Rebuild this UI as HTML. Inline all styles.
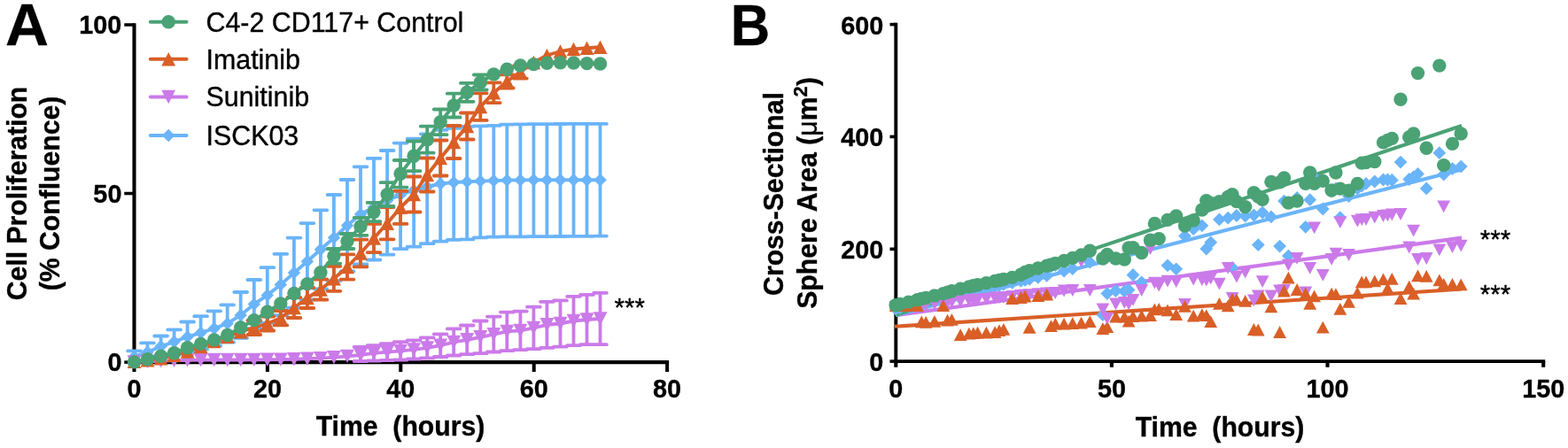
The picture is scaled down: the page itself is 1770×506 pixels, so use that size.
<!DOCTYPE html>
<html><head><meta charset="utf-8"><title>Figure</title>
<style>
html,body{margin:0;padding:0;background:#fff;}
svg{display:block;}
text{font-family:"Liberation Sans",sans-serif;fill:#000;stroke:#000;stroke-width:0.35px;stroke-linejoin:round;}
.b{font-weight:bold;}
.t{font-size:28.8px;font-weight:bold;}
.l{font-size:30.4px;}
</style></head><body>
<svg width="1770" height="506" viewBox="0 0 1770 506">
<rect width="1770" height="506" fill="#fff"/>
<g id="panelA">
<g stroke="#000" stroke-width="4.1" fill="none">
<path d="M151.5 26.2V411.2"/>
<path d="M149.4 409.1H755"/>
</g><g stroke="#000" stroke-width="3.5" fill="none">
<path stroke-width="4" d="M151.5 409.1V420.1M301.9 409.1V420.1M452.3 409.1V420.1M602.7 409.1V420.1M753.1 409.1V420.1"/>
<path d="M140.3 28H151.5"/>
<path d="M140.3 218.5H151.5"/>
<path d="M140.3 409.1H151.5"/>
</g>
<text class="t" transform="translate(151.5 448.5) scale(1 1.055)" text-anchor="middle">0</text>
<text class="t" transform="translate(301.9 448.5) scale(1 1.055)" text-anchor="middle">20</text>
<text class="t" transform="translate(452.3 448.5) scale(1 1.055)" text-anchor="middle">40</text>
<text class="t" transform="translate(602.7 448.5) scale(1 1.055)" text-anchor="middle">60</text>
<text class="t" transform="translate(753.1 448.5) scale(1 1.055)" text-anchor="middle">80</text>
<text class="t" transform="translate(137.4 38.2) scale(1 1.055)" text-anchor="end">100</text>
<text class="t" transform="translate(137.4 228.7) scale(1 1.055)" text-anchor="end">50</text>
<text class="t" transform="translate(137.4 419.3) scale(1 1.055)" text-anchor="end">0</text>
<g>
<g stroke="#6ab4f9" stroke-width="3.8" stroke-linecap="round" fill="none">
<path d="M151.5 396.3V403M144.1 396.3H158.9M166.5 387.4V397.7M159.1 387.4H173.9M181.6 379.5V403.1M174.2 379.5H189M174.2 403.1H189M196.6 372.4V399.6M189.2 372.4H204M189.2 399.6H204M211.6 363.5V397.5M204.2 363.5H219M204.2 397.5H219M226.6 357.2V394.6M219.2 357.2H234M219.2 394.6H234M241.7 351.3V390.7M234.3 351.3H249.1M234.3 390.7H249.1M256.7 344.3V386.5M249.3 344.3H264.1M249.3 386.5H264.1M271.7 330V381.8M264.3 330H279.1M264.3 381.8H279.1M286.8 316V371.2M279.4 316H294.2M279.4 371.2H294.2M301.8 302.2V364.6M294.4 302.2H309.2M294.4 364.6H309.2M316.8 286.8V356.2M309.4 286.8H324.2M309.4 356.2H324.2M331.9 268.6V347.6M324.5 268.6H339.3M324.5 347.6H339.3M346.9 252.1V338.5M339.5 252.1H354.3M339.5 338.5H354.3M361.9 237.3V326.3M354.5 237.3H369.3M354.5 326.3H369.3M376.9 220V317.2M369.6 220H384.3M369.6 317.2H384.3M392 203V306.4M384.6 203H399.4M384.6 306.4H399.4M407 188.3V298.4M399.6 188.3H414.4M399.6 298.4H414.4M422 178.9V293.5M414.6 178.9H429.4M414.6 293.5H429.4M437.1 170V287.6M429.7 170H444.5M429.7 287.6H444.5M452.1 161.6V281.1M444.7 161.6H459.5M444.7 281.1H459.5M467.1 156.7V278.7M459.7 156.7H474.5M459.7 278.7H474.5M482.2 151.3V275.2M474.8 151.3H489.6M474.8 275.2H489.6M497.2 146.8V272.7M489.8 146.8H504.6M489.8 272.7H504.6M512.2 144.8V270.8M504.8 144.8H519.6M504.8 270.8H519.6M527.2 142.9V270.3M519.9 142.9H534.6M519.9 270.3H534.6M542.3 142.4V268.3M534.9 142.4H549.7M534.9 268.3H549.7M557.3 141.9V267.6M549.9 141.9H564.7M549.9 267.6H564.7M572.3 140.6V267.4M564.9 140.6H579.7M564.9 267.4H579.7M587.4 140.4V267.3M580 140.4H594.8M580 267.3H594.8M602.4 140.2V267.2M595 140.2H609.8M595 267.2H609.8M617.4 140.1V267.1M610 140.1H624.8M610 267.1H624.8M632.5 140V267M625.1 140H639.9M625.1 267H639.9M647.5 139.9V266.9M640.1 139.9H654.9M640.1 266.9H654.9M662.5 139.9V266.8M655.1 139.9H669.9M655.1 266.8H669.9M677.5 139.9V266.6M670.1 139.9H684.9M670.1 266.6H684.9"/>
</g>
<polyline fill="none" stroke="#6ab4f9" stroke-width="3.9" stroke-linejoin="round" points="151.5,403 166.5,397.7 181.6,391.3 196.6,386 211.6,380.5 226.6,375.9 241.7,371 256.7,365.4 271.7,355.9 286.8,343.6 301.8,333.4 316.8,321.5 331.9,308.1 346.9,295.3 361.9,281.8 376.9,268.6 392,254.7 407,242 422,234 437.1,226.5 452.1,220 467.1,215 482.2,211 497.2,207.5 512.2,206 527.2,205.2 542.3,204.6 557.3,204 572.3,203.6 587.4,203.4 602.4,203.3 617.4,203.2 632.5,203.2 647.5,203.2 662.5,203.2 677.5,203.2"/>
<path d="M151.5 395.8L158.7 403L151.5 410.2L144.3 403Z" fill="#6ab4f9"/><path d="M166.5 390.5L173.7 397.7L166.5 404.9L159.3 397.7Z" fill="#6ab4f9"/><path d="M181.6 384.1L188.8 391.3L181.6 398.5L174.4 391.3Z" fill="#6ab4f9"/><path d="M196.6 378.8L203.8 386L196.6 393.2L189.4 386Z" fill="#6ab4f9"/><path d="M211.6 373.3L218.8 380.5L211.6 387.7L204.4 380.5Z" fill="#6ab4f9"/><path d="M226.6 368.7L233.8 375.9L226.6 383.1L219.4 375.9Z" fill="#6ab4f9"/><path d="M241.7 363.8L248.9 371L241.7 378.2L234.5 371Z" fill="#6ab4f9"/><path d="M256.7 358.2L263.9 365.4L256.7 372.6L249.5 365.4Z" fill="#6ab4f9"/><path d="M271.7 348.7L278.9 355.9L271.7 363.1L264.5 355.9Z" fill="#6ab4f9"/><path d="M286.8 336.4L294 343.6L286.8 350.8L279.6 343.6Z" fill="#6ab4f9"/><path d="M301.8 326.2L309 333.4L301.8 340.6L294.6 333.4Z" fill="#6ab4f9"/><path d="M316.8 314.3L324 321.5L316.8 328.7L309.6 321.5Z" fill="#6ab4f9"/><path d="M331.9 300.9L339.1 308.1L331.9 315.3L324.7 308.1Z" fill="#6ab4f9"/><path d="M346.9 288.1L354.1 295.3L346.9 302.5L339.7 295.3Z" fill="#6ab4f9"/><path d="M361.9 274.6L369.1 281.8L361.9 289L354.7 281.8Z" fill="#6ab4f9"/><path d="M376.9 261.4L384.1 268.6L376.9 275.8L369.8 268.6Z" fill="#6ab4f9"/><path d="M392 247.5L399.2 254.7L392 261.9L384.8 254.7Z" fill="#6ab4f9"/><path d="M407 234.8L414.2 242L407 249.2L399.8 242Z" fill="#6ab4f9"/><path d="M422 226.8L429.2 234L422 241.2L414.8 234Z" fill="#6ab4f9"/><path d="M437.1 219.3L444.3 226.5L437.1 233.7L429.9 226.5Z" fill="#6ab4f9"/><path d="M452.1 212.8L459.3 220L452.1 227.2L444.9 220Z" fill="#6ab4f9"/><path d="M467.1 207.8L474.3 215L467.1 222.2L459.9 215Z" fill="#6ab4f9"/><path d="M482.2 203.8L489.4 211L482.2 218.2L475 211Z" fill="#6ab4f9"/><path d="M497.2 200.3L504.4 207.5L497.2 214.7L490 207.5Z" fill="#6ab4f9"/><path d="M512.2 198.8L519.4 206L512.2 213.2L505 206Z" fill="#6ab4f9"/><path d="M527.2 198L534.5 205.2L527.2 212.4L520 205.2Z" fill="#6ab4f9"/><path d="M542.3 197.4L549.5 204.6L542.3 211.8L535.1 204.6Z" fill="#6ab4f9"/><path d="M557.3 196.8L564.5 204L557.3 211.2L550.1 204Z" fill="#6ab4f9"/><path d="M572.3 196.4L579.5 203.6L572.3 210.8L565.1 203.6Z" fill="#6ab4f9"/><path d="M587.4 196.2L594.6 203.4L587.4 210.6L580.2 203.4Z" fill="#6ab4f9"/><path d="M602.4 196.1L609.6 203.3L602.4 210.5L595.2 203.3Z" fill="#6ab4f9"/><path d="M617.4 196L624.6 203.2L617.4 210.4L610.2 203.2Z" fill="#6ab4f9"/><path d="M632.5 196L639.7 203.2L632.5 210.4L625.3 203.2Z" fill="#6ab4f9"/><path d="M647.5 196L654.7 203.2L647.5 210.4L640.3 203.2Z" fill="#6ab4f9"/><path d="M662.5 196L669.7 203.2L662.5 210.4L655.3 203.2Z" fill="#6ab4f9"/><path d="M677.5 196L684.8 203.2L677.5 210.4L670.3 203.2Z" fill="#6ab4f9"/>
</g>
<g>
<g stroke="#cb7ae9" stroke-width="3.8" stroke-linecap="round" fill="none">
<path d="M407 392V408M399.6 392H414.4M399.6 408H414.4M422 390.2V407.5M414.6 390.2H429.4M414.6 407.5H429.4M437.1 388.2V407M429.7 388.2H444.5M429.7 407H444.5M452.1 386.2V406.5M444.7 386.2H459.5M444.7 406.5H459.5M467.1 384.3V405.5M459.7 384.3H474.5M459.7 405.5H474.5M482.2 381.3V404.5M474.8 381.3H489.6M474.8 404.5H489.6M497.2 377.3V403M489.8 377.3H504.6M489.8 403H504.6M512.2 371.4V401.5M504.8 371.4H519.6M504.8 401.5H519.6M527.2 367.5V400.1M519.9 367.5H534.6M519.9 400.1H534.6M542.3 362.5V399.1M534.9 362.5H549.7M534.9 399.1H549.7M557.3 357.6V397.5M549.9 357.6H564.7M549.9 397.5H564.7M572.3 352.6V396.1M564.9 352.6H579.7M564.9 396.1H579.7M587.4 351.6V395.1M580 351.6H594.8M580 395.1H594.8M602.4 346.7V394.2M595 346.7H609.8M595 394.2H609.8M617.4 340.8V392.8M610 340.8H624.8M610 392.8H624.8M632.5 339.4V391.6M625.1 339.4H639.9M625.1 391.6H639.9M647.5 334.8V390.2M640.1 334.8H654.9M640.1 390.2H654.9M662.5 332.9V389.2M655.1 332.9H669.9M655.1 389.2H669.9M677.5 330.9V389.2M670.1 330.9H684.9M670.1 389.2H684.9"/>
</g>
<polyline fill="none" stroke="#cb7ae9" stroke-width="3.9" stroke-linejoin="round" points="151.5,408.9 166.5,408.2 181.6,407.6 196.6,407.2 211.6,406.9 226.6,406.6 241.7,406.5 256.7,406.5 271.7,406.5 286.8,406.4 301.8,406.3 316.8,406.1 331.9,405.8 346.9,405.3 361.9,404.6 376.9,403.6 392,402.4 407,401 422,398.9 437.1,397.6 452.1,396.4 467.1,394.9 482.2,392.9 497.2,390.1 512.2,386.4 527.2,383.8 542.3,380.8 557.3,377.6 572.3,374.4 587.4,373.4 602.4,370.4 617.4,366.8 632.5,365.5 647.5,362.5 662.5,361 677.5,360"/>
<path d="M151.5 416.6L159.4 401.2L143.6 401.2Z" fill="#cb7ae9"/><path d="M166.5 415.9L174.5 400.5L158.6 400.5Z" fill="#cb7ae9"/><path d="M181.6 415.3L189.5 399.9L173.6 399.9Z" fill="#cb7ae9"/><path d="M196.6 414.9L204.5 399.5L188.7 399.5Z" fill="#cb7ae9"/><path d="M211.6 414.6L219.6 399.2L203.7 399.2Z" fill="#cb7ae9"/><path d="M226.6 414.3L234.6 398.9L218.7 398.9Z" fill="#cb7ae9"/><path d="M241.7 414.2L249.6 398.8L233.7 398.8Z" fill="#cb7ae9"/><path d="M256.7 414.2L264.6 398.8L248.8 398.8Z" fill="#cb7ae9"/><path d="M271.7 414.2L279.7 398.8L263.8 398.8Z" fill="#cb7ae9"/><path d="M286.8 414.1L294.7 398.7L278.8 398.7Z" fill="#cb7ae9"/><path d="M301.8 414L309.7 398.6L293.9 398.6Z" fill="#cb7ae9"/><path d="M316.8 413.8L324.8 398.4L308.9 398.4Z" fill="#cb7ae9"/><path d="M331.9 413.5L339.8 398.1L323.9 398.1Z" fill="#cb7ae9"/><path d="M346.9 413L354.8 397.6L339 397.6Z" fill="#cb7ae9"/><path d="M361.9 412.3L369.9 396.9L354 396.9Z" fill="#cb7ae9"/><path d="M376.9 411.3L384.9 395.9L369 395.9Z" fill="#cb7ae9"/><path d="M392 410.1L399.9 394.7L384 394.7Z" fill="#cb7ae9"/><path d="M407 408.7L414.9 393.3L399.1 393.3Z" fill="#cb7ae9"/><path d="M422 406.6L430 391.2L414.1 391.2Z" fill="#cb7ae9"/><path d="M437.1 405.3L445 389.9L429.1 389.9Z" fill="#cb7ae9"/><path d="M452.1 404.1L460 388.7L444.2 388.7Z" fill="#cb7ae9"/><path d="M467.1 402.6L475.1 387.2L459.2 387.2Z" fill="#cb7ae9"/><path d="M482.2 400.6L490.1 385.2L474.2 385.2Z" fill="#cb7ae9"/><path d="M497.2 397.8L505.1 382.4L489.3 382.4Z" fill="#cb7ae9"/><path d="M512.2 394.1L520.2 378.8L504.3 378.8Z" fill="#cb7ae9"/><path d="M527.2 391.5L535.2 376.1L519.3 376.1Z" fill="#cb7ae9"/><path d="M542.3 388.5L550.2 373.1L534.3 373.1Z" fill="#cb7ae9"/><path d="M557.3 385.2L565.2 369.9L549.4 369.9Z" fill="#cb7ae9"/><path d="M572.3 382.1L580.3 366.7L564.4 366.7Z" fill="#cb7ae9"/><path d="M587.4 381.1L595.3 365.7L579.4 365.7Z" fill="#cb7ae9"/><path d="M602.4 378.1L610.3 362.8L594.5 362.8Z" fill="#cb7ae9"/><path d="M617.4 374.5L625.4 359.1L609.5 359.1Z" fill="#cb7ae9"/><path d="M632.5 373.2L640.4 357.8L624.5 357.8Z" fill="#cb7ae9"/><path d="M647.5 370.2L655.4 354.8L639.6 354.8Z" fill="#cb7ae9"/><path d="M662.5 368.7L670.5 353.3L654.6 353.3Z" fill="#cb7ae9"/><path d="M677.5 367.7L685.5 352.3L669.6 352.3Z" fill="#cb7ae9"/>
</g>
<g>
<g stroke="#d95f27" stroke-width="3.8" stroke-linecap="round" fill="none">
<path d="M286.8 362V378M279.4 362H294.2M279.4 378H294.2M301.8 357.5V373.5M294.4 357.5H309.2M294.4 373.5H309.2M316.8 351V367.4M309.4 351H324.2M309.4 367.4H324.2M331.9 336V359M324.5 336H339.3M324.5 359H339.3M346.9 325V348M339.5 325H354.3M339.5 348H354.3M361.9 315.5V338.5M354.5 315.5H369.3M354.5 338.5H369.3M376.9 300.8V328.8M369.6 300.8H384.3M369.6 328.8H384.3M392 287.4V315.6M384.6 287.4H399.4M384.6 315.6H399.4M407 270.7V301.3M399.6 270.7H414.4M399.6 301.3H414.4M422 252.9V285.1M414.6 252.9H429.4M414.6 285.1H429.4M437.1 234.1V270.3M429.7 234.1H444.5M429.7 270.3H444.5M452.1 215.9V252.9M444.7 215.9H459.5M444.7 252.9H459.5M467.1 199.5V239.5M459.7 199.5H474.5M459.7 239.5H474.5M482.2 178.5V216.5M474.8 178.5H489.6M474.8 216.5H489.6M497.2 158.5V198.5M489.8 158.5H504.6M489.8 198.5H504.6M512.2 142V179M504.8 142H519.6M504.8 179H519.6M527.2 127.5V157.5M519.9 127.5H534.6M519.9 157.5H534.6M542.3 105.3V135.9M534.9 105.3H549.7M534.9 135.9H549.7M557.3 93.3V116.1M549.9 93.3H564.7M549.9 116.1H564.7M572.3 84.3V99.5M564.9 84.3H579.7M564.9 99.5H579.7M587.4 74.2V88.6M580 74.2H594.8M580 88.6H594.8"/>
</g>
<polyline fill="none" stroke="#d95f27" stroke-width="3.9" stroke-linejoin="round" points="151.5,408.4 166.5,406.9 181.6,404.9 196.6,401.4 211.6,397 226.6,391.5 241.7,385.6 256.7,380.2 271.7,374.7 286.8,370 301.8,365.5 316.8,359.2 331.9,347.5 346.9,336.5 361.9,327 376.9,314.8 392,301.5 407,286 422,269 437.1,252.2 452.1,234.4 467.1,219.5 482.2,197.5 497.2,178.5 512.2,160.5 527.2,142.5 542.3,120.6 557.3,104.7 572.3,91.9 587.4,81.4 602.4,70.5 617.4,62.5 632.5,58 647.5,55.5 662.5,54.2 677.5,53.2"/>
<path d="M151.5 400.7L159.4 416.1L143.6 416.1Z" fill="#d95f27"/><path d="M166.5 399.2L174.5 414.6L158.6 414.6Z" fill="#d95f27"/><path d="M181.6 397.2L189.5 412.6L173.6 412.6Z" fill="#d95f27"/><path d="M196.6 393.7L204.5 409.1L188.7 409.1Z" fill="#d95f27"/><path d="M211.6 389.3L219.6 404.7L203.7 404.7Z" fill="#d95f27"/><path d="M226.6 383.8L234.6 399.2L218.7 399.2Z" fill="#d95f27"/><path d="M241.7 377.9L249.6 393.3L233.7 393.3Z" fill="#d95f27"/><path d="M256.7 372.5L264.6 387.9L248.8 387.9Z" fill="#d95f27"/><path d="M271.7 367L279.7 382.4L263.8 382.4Z" fill="#d95f27"/><path d="M286.8 362.3L294.7 377.7L278.8 377.7Z" fill="#d95f27"/><path d="M301.8 357.8L309.7 373.2L293.9 373.2Z" fill="#d95f27"/><path d="M316.8 351.5L324.8 366.9L308.9 366.9Z" fill="#d95f27"/><path d="M331.9 339.8L339.8 355.2L323.9 355.2Z" fill="#d95f27"/><path d="M346.9 328.8L354.8 344.2L339 344.2Z" fill="#d95f27"/><path d="M361.9 319.3L369.9 334.7L354 334.7Z" fill="#d95f27"/><path d="M376.9 307.1L384.9 322.5L369 322.5Z" fill="#d95f27"/><path d="M392 293.8L399.9 309.2L384 309.2Z" fill="#d95f27"/><path d="M407 278.3L414.9 293.7L399.1 293.7Z" fill="#d95f27"/><path d="M422 261.3L430 276.7L414.1 276.7Z" fill="#d95f27"/><path d="M437.1 244.5L445 259.9L429.1 259.9Z" fill="#d95f27"/><path d="M452.1 226.7L460 242.1L444.2 242.1Z" fill="#d95f27"/><path d="M467.1 211.8L475.1 227.2L459.2 227.2Z" fill="#d95f27"/><path d="M482.2 189.8L490.1 205.2L474.2 205.2Z" fill="#d95f27"/><path d="M497.2 170.8L505.1 186.2L489.3 186.2Z" fill="#d95f27"/><path d="M512.2 152.8L520.2 168.2L504.3 168.2Z" fill="#d95f27"/><path d="M527.2 134.8L535.2 150.2L519.3 150.2Z" fill="#d95f27"/><path d="M542.3 112.9L550.2 128.3L534.3 128.3Z" fill="#d95f27"/><path d="M557.3 97L565.2 112.4L549.4 112.4Z" fill="#d95f27"/><path d="M572.3 84.2L580.3 99.6L564.4 99.6Z" fill="#d95f27"/><path d="M587.4 73.7L595.3 89.1L579.4 89.1Z" fill="#d95f27"/><path d="M602.4 62.8L610.3 78.2L594.5 78.2Z" fill="#d95f27"/><path d="M617.4 54.8L625.4 70.2L609.5 70.2Z" fill="#d95f27"/><path d="M632.5 50.3L640.4 65.7L624.5 65.7Z" fill="#d95f27"/><path d="M647.5 47.8L655.4 63.2L639.6 63.2Z" fill="#d95f27"/><path d="M662.5 46.5L670.5 61.9L654.6 61.9Z" fill="#d95f27"/><path d="M677.5 45.5L685.5 60.9L669.6 60.9Z" fill="#d95f27"/>
</g>
<g>
<g stroke="#4aa275" stroke-width="3.8" stroke-linecap="round" fill="none">
<path d="M376.9 281V297.6M369.6 281H384.3M369.6 297.6H384.3M392 264V281M384.6 264H399.4M384.6 281H399.4M407 245.8V265.8M399.6 245.8H414.4M399.6 265.8H414.4M422 228.9V250.1M414.6 228.9H429.4M414.6 250.1H429.4M437.1 206.2V233M429.7 206.2H444.5M429.7 233H444.5M452.1 181V211.6M444.7 181H459.5M444.7 211.6H459.5M467.1 159.5V193.1M459.7 159.5H474.5M459.7 193.1H474.5M482.2 142.7V172.7M474.8 142.7H489.6M474.8 172.7H489.6M497.2 123.5V152.1M489.8 123.5H504.6M489.8 152.1H504.6M512.2 105.7V132.5M504.8 105.7H519.6M504.8 132.5H519.6M527.2 93.8V114.8M519.9 93.8H534.6M519.9 114.8H534.6M542.3 84.5V101.5M534.9 84.5H549.7M534.9 101.5H549.7"/>
</g>
<polyline fill="none" stroke="#4aa275" stroke-width="3.9" stroke-linejoin="round" points="151.5,408.9 166.5,405.7 181.6,402.2 196.6,398.7 211.6,392.8 226.6,388.4 241.7,383.9 256.7,378.5 271.7,370 286.8,361.6 301.8,352.2 316.8,342.9 331.9,331.5 346.9,320.6 361.9,307.7 376.9,289.3 392,272.5 407,255.8 422,239.5 437.1,219.6 452.1,196.3 467.1,176.3 482.2,157.7 497.2,137.8 512.2,119.1 527.2,104.3 542.3,93 557.3,83.9 572.3,78.2 587.4,74 602.4,72.6 617.4,71.2 632.5,70.7 647.5,71 662.5,71.6 677.5,72"/>
<circle cx="151.5" cy="408.9" r="7.7" fill="#4aa275"/><circle cx="166.5" cy="405.7" r="7.7" fill="#4aa275"/><circle cx="181.6" cy="402.2" r="7.7" fill="#4aa275"/><circle cx="196.6" cy="398.7" r="7.7" fill="#4aa275"/><circle cx="211.6" cy="392.8" r="7.7" fill="#4aa275"/><circle cx="226.6" cy="388.4" r="7.7" fill="#4aa275"/><circle cx="241.7" cy="383.9" r="7.7" fill="#4aa275"/><circle cx="256.7" cy="378.5" r="7.7" fill="#4aa275"/><circle cx="271.7" cy="370" r="7.7" fill="#4aa275"/><circle cx="286.8" cy="361.6" r="7.7" fill="#4aa275"/><circle cx="301.8" cy="352.2" r="7.7" fill="#4aa275"/><circle cx="316.8" cy="342.9" r="7.7" fill="#4aa275"/><circle cx="331.9" cy="331.5" r="7.7" fill="#4aa275"/><circle cx="346.9" cy="320.6" r="7.7" fill="#4aa275"/><circle cx="361.9" cy="307.7" r="7.7" fill="#4aa275"/><circle cx="376.9" cy="289.3" r="7.7" fill="#4aa275"/><circle cx="392" cy="272.5" r="7.7" fill="#4aa275"/><circle cx="407" cy="255.8" r="7.7" fill="#4aa275"/><circle cx="422" cy="239.5" r="7.7" fill="#4aa275"/><circle cx="437.1" cy="219.6" r="7.7" fill="#4aa275"/><circle cx="452.1" cy="196.3" r="7.7" fill="#4aa275"/><circle cx="467.1" cy="176.3" r="7.7" fill="#4aa275"/><circle cx="482.2" cy="157.7" r="7.7" fill="#4aa275"/><circle cx="497.2" cy="137.8" r="7.7" fill="#4aa275"/><circle cx="512.2" cy="119.1" r="7.7" fill="#4aa275"/><circle cx="527.2" cy="104.3" r="7.7" fill="#4aa275"/><circle cx="542.3" cy="93" r="7.7" fill="#4aa275"/><circle cx="557.3" cy="83.9" r="7.7" fill="#4aa275"/><circle cx="572.3" cy="78.2" r="7.7" fill="#4aa275"/><circle cx="587.4" cy="74" r="7.7" fill="#4aa275"/><circle cx="602.4" cy="72.6" r="7.7" fill="#4aa275"/><circle cx="617.4" cy="71.2" r="7.7" fill="#4aa275"/><circle cx="632.5" cy="70.7" r="7.7" fill="#4aa275"/><circle cx="647.5" cy="71" r="7.7" fill="#4aa275"/><circle cx="662.5" cy="71.6" r="7.7" fill="#4aa275"/><circle cx="677.5" cy="72" r="7.7" fill="#4aa275"/>
</g>
<path d="M169.8 24.7H210.6" stroke="#4aa275" stroke-width="3.9" stroke-linecap="round" fill="none"/><circle cx="190.2" cy="24.7" r="7.7" fill="#4aa275"/><text class="l" transform="translate(232.5 35.6) scale(1 1.06)">C4-2 CD117+ Control</text>
<path d="M169.8 66.8H210.6" stroke="#d95f27" stroke-width="3.9" stroke-linecap="round" fill="none"/><path d="M190.2 59.1L198.1 74.5L182.3 74.5Z" fill="#d95f27"/><text class="l" transform="translate(232.5 77.7) scale(1 1.06)">Imatinib</text>
<path d="M169.8 109.5H210.6" stroke="#cb7ae9" stroke-width="3.9" stroke-linecap="round" fill="none"/><path d="M190.2 117.2L198.1 101.8L182.3 101.8Z" fill="#cb7ae9"/><text class="l" transform="translate(232.5 120.4) scale(1 1.06)">Sunitinib</text>
<path d="M169.8 153H210.6" stroke="#6ab4f9" stroke-width="3.9" stroke-linecap="round" fill="none"/><path d="M190.2 145.8L197.4 153L190.2 160.2L183 153Z" fill="#6ab4f9"/><text class="l" transform="translate(232.5 163.9) scale(1 1.06)">ISCK03</text>
<text class="l" style="font-size:29.5px" x="693.6" y="356.7">***</text>
<text class="b" font-size="66.5" transform="translate(6 51.3) scale(1.02 0.99)">A</text>
<text class="b" font-size="30.2" transform="translate(452 492.4) scale(1 1.04)" text-anchor="middle" xml:space="preserve" style="white-space:pre">Time  (hours)</text>
<text class="b" font-size="30.2" text-anchor="middle" transform="translate(29.5 218.5) rotate(-90) scale(1 1.04)">Cell Proliferation</text>
<text class="b" font-size="30.2" text-anchor="middle" transform="translate(67.3 218.5) rotate(-90) scale(1 1.04)">(% Confluence)</text>
</g>
<g id="panelB">
<g stroke="#000" stroke-width="3.9" fill="none">
<path d="M1011.3 25.8V410.1"/>
<path d="M1009.3 408.1H1744.2"/>
</g><g stroke="#000" stroke-width="3.6" fill="none">
<path stroke-width="4.1" d="M1011.3 408.1V414.8M1254.9 408.1V414.8M1498.5 408.1V414.8M1742.2 408.1V414.8"/>
<path d="M1004.5 27.6H1011.3"/>
<path d="M1004.5 154.4H1011.3"/>
<path d="M1004.5 281.3H1011.3"/>
<path d="M1004.5 408.1H1011.3"/>
</g>
<text class="t" transform="translate(1011.3 448.9) scale(1 1.055)" text-anchor="middle">0</text>
<text class="t" transform="translate(1254.9 448.9) scale(1 1.055)" text-anchor="middle">50</text>
<text class="t" transform="translate(1498.5 448.9) scale(1 1.055)" text-anchor="middle">100</text>
<text class="t" transform="translate(1742.2 448.9) scale(1 1.055)" text-anchor="middle">150</text>
<text class="t" transform="translate(997.3 38.5) scale(1 1.055)" text-anchor="end">600</text>
<text class="t" transform="translate(997.3 165.3) scale(1 1.055)" text-anchor="end">400</text>
<text class="t" transform="translate(997.3 292.2) scale(1 1.055)" text-anchor="end">200</text>
<text class="t" transform="translate(997.3 419) scale(1 1.055)" text-anchor="end">0</text>
<path d="M1010 368.8L1650 326.5" stroke="#d95f27" stroke-width="4.1" fill="none"/>
<path d="M1011 356.1L1650 268.6" stroke="#cb7ae9" stroke-width="4.1" fill="none"/>
<path d="M1011 356L1650 191.4" stroke="#6ab4f9" stroke-width="4.1" fill="none"/>
<path d="M1011 356L1650 142" stroke="#4aa275" stroke-width="4.1" fill="none"/>
<g>
<path d="M1011.1 341.6L1018.5 349L1011.1 356.4L1003.7 349Z" fill="#6ab4f9"/><path d="M1016 340.4L1023.4 347.8L1016 355.2L1008.6 347.8Z" fill="#6ab4f9"/><path d="M1025.7 338.2L1033.1 345.6L1025.7 353L1018.3 345.6Z" fill="#6ab4f9"/><path d="M1035.5 335.9L1042.9 343.3L1035.5 350.7L1028.1 343.3Z" fill="#6ab4f9"/><path d="M1040.3 334.8L1047.7 342.2L1040.3 349.6L1032.9 342.2Z" fill="#6ab4f9"/><path d="M1045.2 333.7L1052.6 341.1L1045.2 348.5L1037.8 341.1Z" fill="#6ab4f9"/><path d="M1054.9 331.4L1062.3 338.8L1054.9 346.2L1047.5 338.8Z" fill="#6ab4f9"/><path d="M1064.7 329.2L1072.1 336.6L1064.7 344L1057.3 336.6Z" fill="#6ab4f9"/><path d="M1069.6 328L1077 335.4L1069.6 342.8L1062.2 335.4Z" fill="#6ab4f9"/><path d="M1074.4 326.9L1081.8 334.3L1074.4 341.7L1067 334.3Z" fill="#6ab4f9"/><path d="M1084.2 324.6L1091.6 332L1084.2 339.4L1076.8 332Z" fill="#6ab4f9"/><path d="M1093.9 322.4L1101.3 329.8L1093.9 337.2L1086.5 329.8Z" fill="#6ab4f9"/><path d="M1098.8 321.2L1106.2 328.6L1098.8 336L1091.4 328.6Z" fill="#6ab4f9"/><path d="M1103.6 320.1L1111 327.5L1103.6 334.9L1096.2 327.5Z" fill="#6ab4f9"/><path d="M1113.4 317.9L1120.8 325.3L1113.4 332.7L1106 325.3Z" fill="#6ab4f9"/><path d="M1123.1 316L1130.5 323.4L1123.1 330.8L1115.7 323.4Z" fill="#6ab4f9"/><path d="M1128 315L1135.4 322.4L1128 329.8L1120.6 322.4Z" fill="#6ab4f9"/><path d="M1132.9 314L1140.3 321.4L1132.9 328.8L1125.5 321.4Z" fill="#6ab4f9"/><path d="M1142.6 312L1150 319.4L1142.6 326.8L1135.2 319.4Z" fill="#6ab4f9"/><path d="M1152.4 310L1159.8 317.4L1152.4 324.8L1145 317.4Z" fill="#6ab4f9"/><path d="M1157.2 309L1164.6 316.4L1157.2 323.8L1149.8 316.4Z" fill="#6ab4f9"/><path d="M1162.1 308L1169.5 315.4L1162.1 322.8L1154.7 315.4Z" fill="#6ab4f9"/><path d="M1171.8 306L1179.2 313.4L1171.8 320.8L1164.4 313.4Z" fill="#6ab4f9"/><path d="M1181.6 304L1189 311.4L1181.6 318.8L1174.2 311.4Z" fill="#6ab4f9"/><path d="M1186.5 293.6L1193.9 301L1186.5 308.4L1179.1 301Z" fill="#6ab4f9"/><path d="M1191.3 292.1L1198.7 299.5L1191.3 306.9L1183.9 299.5Z" fill="#6ab4f9"/><path d="M1201.1 298.8L1208.5 306.2L1201.1 313.6L1193.7 306.2Z" fill="#6ab4f9"/><path d="M1210.8 296.1L1218.2 303.5L1210.8 310.9L1203.4 303.5Z" fill="#6ab4f9"/><path d="M1220.6 283.1L1228 290.5L1220.6 297.9L1213.2 290.5Z" fill="#6ab4f9"/><path d="M1230.3 288.8L1237.7 296.2L1230.3 303.6L1222.9 296.2Z" fill="#6ab4f9"/><path d="M1244.9 348.3L1252.3 355.7L1244.9 363.1L1237.5 355.7Z" fill="#6ab4f9"/><path d="M1249.8 324.1L1257.2 331.5L1249.8 338.9L1242.4 331.5Z" fill="#6ab4f9"/><path d="M1259.5 321.1L1266.9 328.5L1259.5 335.9L1252.1 328.5Z" fill="#6ab4f9"/><path d="M1269.3 321.6L1276.7 329L1269.3 336.4L1261.9 329Z" fill="#6ab4f9"/><path d="M1274.1 320.1L1281.5 327.5L1274.1 334.9L1266.7 327.5Z" fill="#6ab4f9"/><path d="M1279 303.1L1286.4 310.5L1279 317.9L1271.6 310.5Z" fill="#6ab4f9"/><path d="M1288.7 311.4L1296.1 318.8L1288.7 326.2L1281.3 318.8Z" fill="#6ab4f9"/><path d="M1298.5 263.9L1305.9 271.3L1298.5 278.7L1291.1 271.3Z" fill="#6ab4f9"/><path d="M1303.4 245L1310.8 252.4L1303.4 259.8L1296 252.4Z" fill="#6ab4f9"/><path d="M1308.2 262.2L1315.6 269.6L1308.2 277L1300.8 269.6Z" fill="#6ab4f9"/><path d="M1318 292.4L1325.4 299.8L1318 307.2L1310.6 299.8Z" fill="#6ab4f9"/><path d="M1327.7 296.4L1335.1 303.8L1327.7 311.2L1320.3 303.8Z" fill="#6ab4f9"/><path d="M1337.5 259.2L1344.9 266.6L1337.5 274L1330.1 266.6Z" fill="#6ab4f9"/><path d="M1347.2 251.3L1354.6 258.7L1347.2 266.1L1339.8 258.7Z" fill="#6ab4f9"/><path d="M1356.9 247.4L1364.3 254.8L1356.9 262.2L1349.5 254.8Z" fill="#6ab4f9"/><path d="M1361.8 273.6L1369.2 281L1361.8 288.4L1354.4 281Z" fill="#6ab4f9"/><path d="M1366.7 266.4L1374.1 273.8L1366.7 281.2L1359.3 273.8Z" fill="#6ab4f9"/><path d="M1376.4 240.5L1383.8 247.9L1376.4 255.3L1369 247.9Z" fill="#6ab4f9"/><path d="M1386.2 238.8L1393.6 246.2L1386.2 253.6L1378.8 246.2Z" fill="#6ab4f9"/><path d="M1391 294.9L1398.4 302.3L1391 309.7L1383.6 302.3Z" fill="#6ab4f9"/><path d="M1395.9 236.1L1403.3 243.5L1395.9 250.9L1388.5 243.5Z" fill="#6ab4f9"/><path d="M1405.7 236.6L1413.1 244L1405.7 251.4L1398.3 244Z" fill="#6ab4f9"/><path d="M1415.4 235.6L1422.8 243L1415.4 250.4L1408 243Z" fill="#6ab4f9"/><path d="M1420.3 269.2L1427.7 276.6L1420.3 284L1412.9 276.6Z" fill="#6ab4f9"/><path d="M1425.1 232.6L1432.5 240L1425.1 247.4L1417.7 240Z" fill="#6ab4f9"/><path d="M1434.9 237.5L1442.3 244.9L1434.9 252.3L1427.5 244.9Z" fill="#6ab4f9"/><path d="M1444.6 270.7L1452 278.1L1444.6 285.5L1437.2 278.1Z" fill="#6ab4f9"/><path d="M1449.5 219.7L1456.9 227.1L1449.5 234.5L1442.1 227.1Z" fill="#6ab4f9"/><path d="M1454.4 281.5L1461.8 288.9L1454.4 296.3L1447 288.9Z" fill="#6ab4f9"/><path d="M1464.1 216.1L1471.5 223.5L1464.1 230.9L1456.7 223.5Z" fill="#6ab4f9"/><path d="M1473.8 248.9L1481.2 256.3L1473.8 263.7L1466.4 256.3Z" fill="#6ab4f9"/><path d="M1478.7 218.3L1486.1 225.7L1478.7 233.1L1471.3 225.7Z" fill="#6ab4f9"/><path d="M1483.6 192.6L1491 200L1483.6 207.4L1476.2 200Z" fill="#6ab4f9"/><path d="M1493.3 228.6L1500.7 236L1493.3 243.4L1485.9 236Z" fill="#6ab4f9"/><path d="M1503.1 208.6L1510.5 216L1503.1 223.4L1495.7 216Z" fill="#6ab4f9"/><path d="M1507.9 205.6L1515.3 213L1507.9 220.4L1500.5 213Z" fill="#6ab4f9"/><path d="M1512.8 238.3L1520.2 245.7L1512.8 253.1L1505.4 245.7Z" fill="#6ab4f9"/><path d="M1522.6 214.1L1530 221.5L1522.6 228.9L1515.2 221.5Z" fill="#6ab4f9"/><path d="M1532.3 205.6L1539.7 213L1532.3 220.4L1524.9 213Z" fill="#6ab4f9"/><path d="M1537.2 202.6L1544.6 210L1537.2 217.4L1529.8 210Z" fill="#6ab4f9"/><path d="M1542 200L1549.4 207.4L1542 214.8L1534.6 207.4Z" fill="#6ab4f9"/><path d="M1551.8 197.6L1559.2 205L1551.8 212.4L1544.4 205Z" fill="#6ab4f9"/><path d="M1561.5 195.6L1568.9 203L1561.5 210.4L1554.1 203Z" fill="#6ab4f9"/><path d="M1566.4 195.6L1573.8 203L1566.4 210.4L1559 203Z" fill="#6ab4f9"/><path d="M1571.3 196.1L1578.7 203.5L1571.3 210.9L1563.9 203.5Z" fill="#6ab4f9"/><path d="M1581 175.7L1588.4 183.1L1581 190.5L1573.6 183.1Z" fill="#6ab4f9"/><path d="M1590.7 195.1L1598.1 202.5L1590.7 209.9L1583.3 202.5Z" fill="#6ab4f9"/><path d="M1595.6 192.6L1603 200L1595.6 207.4L1588.2 200Z" fill="#6ab4f9"/><path d="M1600.5 189.1L1607.9 196.5L1600.5 203.9L1593.1 196.5Z" fill="#6ab4f9"/><path d="M1610.2 205.5L1617.6 212.9L1610.2 220.3L1602.8 212.9Z" fill="#6ab4f9"/><path d="M1624.8 165.3L1632.2 172.7L1624.8 180.1L1617.4 172.7Z" fill="#6ab4f9"/><path d="M1629.7 189.6L1637.1 197L1629.7 204.4L1622.3 197Z" fill="#6ab4f9"/><path d="M1639.5 183.1L1646.9 190.5L1639.5 197.9L1632.1 190.5Z" fill="#6ab4f9"/><path d="M1649.2 180.7L1656.6 188.1L1649.2 195.5L1641.8 188.1Z" fill="#6ab4f9"/>
</g>
<g>
<path d="M1011.1 353.9L1018.5 340.1L1003.7 340.1Z" fill="#cb7ae9"/><path d="M1016 353.4L1023.4 339.6L1008.6 339.6Z" fill="#cb7ae9"/><path d="M1025.7 352.5L1033.1 338.7L1018.3 338.7Z" fill="#cb7ae9"/><path d="M1035.5 351.6L1042.8 337.8L1028.1 337.8Z" fill="#cb7ae9"/><path d="M1040.3 351.2L1047.7 337.4L1032.9 337.4Z" fill="#cb7ae9"/><path d="M1045.2 350.7L1052.6 336.9L1037.8 336.9Z" fill="#cb7ae9"/><path d="M1054.9 349.9L1062.3 336.1L1047.6 336.1Z" fill="#cb7ae9"/><path d="M1064.7 349L1072.1 335.2L1057.3 335.2Z" fill="#cb7ae9"/><path d="M1069.6 348.5L1076.9 334.7L1062.2 334.7Z" fill="#cb7ae9"/><path d="M1074.4 348.1L1081.8 334.3L1067 334.3Z" fill="#cb7ae9"/><path d="M1084.2 347.2L1091.5 333.4L1076.8 333.4Z" fill="#cb7ae9"/><path d="M1093.9 346.3L1101.3 332.5L1086.5 332.5Z" fill="#cb7ae9"/><path d="M1098.8 345.8L1106.2 332L1091.4 332Z" fill="#cb7ae9"/><path d="M1103.6 345.4L1111 331.6L1096.3 331.6Z" fill="#cb7ae9"/><path d="M1113.4 344.5L1120.8 330.7L1106 330.7Z" fill="#cb7ae9"/><path d="M1123.1 343.6L1130.5 329.8L1115.8 329.8Z" fill="#cb7ae9"/><path d="M1128 343.1L1135.4 329.3L1120.6 329.3Z" fill="#cb7ae9"/><path d="M1132.9 342.7L1140.3 328.9L1125.5 328.9Z" fill="#cb7ae9"/><path d="M1142.6 341.8L1150 328L1135.2 328Z" fill="#cb7ae9"/><path d="M1152.4 340.9L1159.7 327.1L1145 327.1Z" fill="#cb7ae9"/><path d="M1157.2 340.4L1164.6 326.6L1149.8 326.6Z" fill="#cb7ae9"/><path d="M1162.1 340L1169.5 326.2L1154.7 326.2Z" fill="#cb7ae9"/><path d="M1171.8 339.1L1179.2 325.3L1164.5 325.3Z" fill="#cb7ae9"/><path d="M1181.6 338.2L1189 324.4L1174.2 324.4Z" fill="#cb7ae9"/><path d="M1186.5 338.4L1193.8 324.6L1179.1 324.6Z" fill="#cb7ae9"/><path d="M1191.3 337.9L1198.7 324.1L1183.9 324.1Z" fill="#cb7ae9"/><path d="M1201.1 335.4L1208.5 321.6L1193.7 321.6Z" fill="#cb7ae9"/><path d="M1210.8 334.9L1218.2 321.1L1203.4 321.1Z" fill="#cb7ae9"/><path d="M1220.6 302.3L1227.9 288.5L1213.2 288.5Z" fill="#cb7ae9"/><path d="M1230.3 334.9L1237.7 321.1L1222.9 321.1Z" fill="#cb7ae9"/><path d="M1244.9 356.2L1252.3 342.4L1237.5 342.4Z" fill="#cb7ae9"/><path d="M1259.5 350.2L1266.9 336.4L1252.1 336.4Z" fill="#cb7ae9"/><path d="M1269.3 348.8L1276.6 335L1261.9 335Z" fill="#cb7ae9"/><path d="M1274.1 350.2L1281.5 336.4L1266.8 336.4Z" fill="#cb7ae9"/><path d="M1279 345.8L1286.4 332L1271.6 332Z" fill="#cb7ae9"/><path d="M1288.7 334.9L1296.1 321.1L1281.4 321.1Z" fill="#cb7ae9"/><path d="M1298.5 287.9L1305.9 274.1L1291.1 274.1Z" fill="#cb7ae9"/><path d="M1303.4 326.5L1310.7 312.7L1296 312.7Z" fill="#cb7ae9"/><path d="M1308.2 329.5L1315.6 315.7L1300.8 315.7Z" fill="#cb7ae9"/><path d="M1318 324.5L1325.4 310.7L1310.6 310.7Z" fill="#cb7ae9"/><path d="M1327.7 325L1335.1 311.2L1320.3 311.2Z" fill="#cb7ae9"/><path d="M1337.5 350.7L1344.8 336.9L1330.1 336.9Z" fill="#cb7ae9"/><path d="M1347.2 322.6L1354.6 308.8L1339.8 308.8Z" fill="#cb7ae9"/><path d="M1356.9 323L1364.3 309.2L1349.6 309.2Z" fill="#cb7ae9"/><path d="M1361.8 323.5L1369.2 309.7L1354.4 309.7Z" fill="#cb7ae9"/><path d="M1366.7 321.6L1374.1 307.8L1359.3 307.8Z" fill="#cb7ae9"/><path d="M1376.4 327.5L1383.8 313.7L1369 313.7Z" fill="#cb7ae9"/><path d="M1386.2 309.7L1393.5 295.9L1378.8 295.9Z" fill="#cb7ae9"/><path d="M1391 343.9L1398.4 330.1L1383.7 330.1Z" fill="#cb7ae9"/><path d="M1395.9 319.6L1403.3 305.8L1388.5 305.8Z" fill="#cb7ae9"/><path d="M1405.7 314.6L1413 300.8L1398.3 300.8Z" fill="#cb7ae9"/><path d="M1415.4 346.3L1422.8 332.5L1408 332.5Z" fill="#cb7ae9"/><path d="M1420.3 341.3L1427.6 327.5L1412.9 327.5Z" fill="#cb7ae9"/><path d="M1425.1 325L1432.5 311.2L1417.8 311.2Z" fill="#cb7ae9"/><path d="M1434.9 341.3L1442.3 327.5L1427.5 327.5Z" fill="#cb7ae9"/><path d="M1444.6 335.4L1452 321.6L1437.2 321.6Z" fill="#cb7ae9"/><path d="M1449.5 334.9L1456.9 321.1L1442.1 321.1Z" fill="#cb7ae9"/><path d="M1454.4 306.2L1461.7 292.4L1447 292.4Z" fill="#cb7ae9"/><path d="M1464.1 298.8L1471.5 285L1456.7 285Z" fill="#cb7ae9"/><path d="M1473.8 337.4L1481.2 323.6L1466.5 323.6Z" fill="#cb7ae9"/><path d="M1478.7 309.7L1486.1 295.9L1471.3 295.9Z" fill="#cb7ae9"/><path d="M1483.6 264.2L1491 250.4L1476.2 250.4Z" fill="#cb7ae9"/><path d="M1493.3 317.8L1500.7 304L1485.9 304Z" fill="#cb7ae9"/><path d="M1503.1 299.8L1510.5 286L1495.7 286Z" fill="#cb7ae9"/><path d="M1507.9 293.5L1515.3 279.7L1500.6 279.7Z" fill="#cb7ae9"/><path d="M1512.8 258L1520.2 244.2L1505.4 244.2Z" fill="#cb7ae9"/><path d="M1522.6 294.9L1529.9 281.1L1515.2 281.1Z" fill="#cb7ae9"/><path d="M1532.3 256.6L1539.7 242.8L1524.9 242.8Z" fill="#cb7ae9"/><path d="M1537.2 255.1L1544.6 241.3L1529.8 241.3Z" fill="#cb7ae9"/><path d="M1542 254.9L1549.4 241.1L1534.7 241.1Z" fill="#cb7ae9"/><path d="M1551.8 252.6L1559.2 238.8L1544.4 238.8Z" fill="#cb7ae9"/><path d="M1561.5 250.9L1568.9 237.1L1554.1 237.1Z" fill="#cb7ae9"/><path d="M1566.4 250.2L1573.8 236.4L1559 236.4Z" fill="#cb7ae9"/><path d="M1571.3 249.4L1578.6 235.6L1563.9 235.6Z" fill="#cb7ae9"/><path d="M1581 248.9L1588.4 235.1L1573.6 235.1Z" fill="#cb7ae9"/><path d="M1590.7 286.4L1598.1 272.6L1583.4 272.6Z" fill="#cb7ae9"/><path d="M1595.6 267.6L1603 253.8L1588.2 253.8Z" fill="#cb7ae9"/><path d="M1600.5 299.9L1607.9 286.1L1593.1 286.1Z" fill="#cb7ae9"/><path d="M1610.2 298.9L1617.6 285.1L1602.9 285.1Z" fill="#cb7ae9"/><path d="M1624.8 289.3L1632.2 275.5L1617.5 275.5Z" fill="#cb7ae9"/><path d="M1629.7 240.3L1637.1 226.5L1622.3 226.5Z" fill="#cb7ae9"/><path d="M1639.5 286.1L1646.8 272.3L1632.1 272.3Z" fill="#cb7ae9"/><path d="M1649.2 284.6L1656.6 270.8L1641.8 270.8Z" fill="#cb7ae9"/>
</g>
<g>
<path d="M1011.1 338.1L1018.5 351.9L1003.7 351.9Z" fill="#d95f27"/><path d="M1016 338.1L1023.4 351.9L1008.6 351.9Z" fill="#d95f27"/><path d="M1025.7 338.1L1033.1 351.9L1018.3 351.9Z" fill="#d95f27"/><path d="M1035.5 338.1L1042.8 351.9L1028.1 351.9Z" fill="#d95f27"/><path d="M1040.3 356.4L1047.7 370.2L1032.9 370.2Z" fill="#d95f27"/><path d="M1045.2 356.9L1052.6 370.7L1037.8 370.7Z" fill="#d95f27"/><path d="M1054.9 356L1062.3 369.8L1047.6 369.8Z" fill="#d95f27"/><path d="M1064.7 338.3L1072.1 352.1L1057.3 352.1Z" fill="#d95f27"/><path d="M1069.6 354.8L1076.9 368.6L1062.2 368.6Z" fill="#d95f27"/><path d="M1074.4 354L1081.8 367.8L1067 367.8Z" fill="#d95f27"/><path d="M1084.2 371.3L1091.5 385.1L1076.8 385.1Z" fill="#d95f27"/><path d="M1093.9 369.8L1101.3 383.6L1086.5 383.6Z" fill="#d95f27"/><path d="M1098.8 369.3L1106.2 383.1L1091.4 383.1Z" fill="#d95f27"/><path d="M1103.6 368.8L1111 382.6L1096.3 382.6Z" fill="#d95f27"/><path d="M1113.4 368.8L1120.8 382.6L1106 382.6Z" fill="#d95f27"/><path d="M1123.1 368.3L1130.5 382.1L1115.8 382.1Z" fill="#d95f27"/><path d="M1128 366.3L1135.4 380.1L1120.6 380.1Z" fill="#d95f27"/><path d="M1132.9 364.9L1140.3 378.7L1125.5 378.7Z" fill="#d95f27"/><path d="M1142.6 330.1L1150 343.9L1135.2 343.9Z" fill="#d95f27"/><path d="M1152.4 329.1L1159.7 342.9L1145 342.9Z" fill="#d95f27"/><path d="M1157.2 327.6L1164.6 341.4L1149.8 341.4Z" fill="#d95f27"/><path d="M1162.1 362.9L1169.5 376.7L1154.7 376.7Z" fill="#d95f27"/><path d="M1171.8 327.1L1179.2 340.9L1164.5 340.9Z" fill="#d95f27"/><path d="M1181.6 325.6L1189 339.4L1174.2 339.4Z" fill="#d95f27"/><path d="M1186.5 361.2L1193.8 375L1179.1 375Z" fill="#d95f27"/><path d="M1191.3 358.7L1198.7 372.5L1183.9 372.5Z" fill="#d95f27"/><path d="M1201.1 358.7L1208.5 372.5L1193.7 372.5Z" fill="#d95f27"/><path d="M1210.8 358.2L1218.2 372L1203.4 372Z" fill="#d95f27"/><path d="M1220.6 357.7L1227.9 371.5L1213.2 371.5Z" fill="#d95f27"/><path d="M1230.3 356.2L1237.7 370L1222.9 370Z" fill="#d95f27"/><path d="M1244.9 364.1L1252.3 377.9L1237.5 377.9Z" fill="#d95f27"/><path d="M1249.8 362.2L1257.2 376L1242.4 376Z" fill="#d95f27"/><path d="M1259.5 350.8L1266.9 364.6L1252.1 364.6Z" fill="#d95f27"/><path d="M1269.3 350.8L1276.6 364.6L1261.9 364.6Z" fill="#d95f27"/><path d="M1274.1 355.7L1281.5 369.5L1266.8 369.5Z" fill="#d95f27"/><path d="M1279 350.3L1286.4 364.1L1271.6 364.1Z" fill="#d95f27"/><path d="M1288.7 349.8L1296.1 363.6L1281.4 363.6Z" fill="#d95f27"/><path d="M1298.5 349.3L1305.9 363.1L1291.1 363.1Z" fill="#d95f27"/><path d="M1303.4 342.4L1310.7 356.2L1296 356.2Z" fill="#d95f27"/><path d="M1308.2 341.9L1315.6 355.7L1300.8 355.7Z" fill="#d95f27"/><path d="M1318 343.4L1325.4 357.2L1310.6 357.2Z" fill="#d95f27"/><path d="M1327.7 348.3L1335.1 362.1L1320.3 362.1Z" fill="#d95f27"/><path d="M1337.5 338.9L1344.8 352.7L1330.1 352.7Z" fill="#d95f27"/><path d="M1347.2 349.8L1354.6 363.6L1339.8 363.6Z" fill="#d95f27"/><path d="M1356.9 348.3L1364.3 362.1L1349.6 362.1Z" fill="#d95f27"/><path d="M1361.8 349.3L1369.2 363.1L1354.4 363.1Z" fill="#d95f27"/><path d="M1366.7 356.2L1374.1 370L1359.3 370Z" fill="#d95f27"/><path d="M1376.4 336L1383.8 349.8L1369 349.8Z" fill="#d95f27"/><path d="M1386.2 338.4L1393.5 352.2L1378.8 352.2Z" fill="#d95f27"/><path d="M1391 331L1398.4 344.8L1383.7 344.8Z" fill="#d95f27"/><path d="M1395.9 331.5L1403.3 345.3L1388.5 345.3Z" fill="#d95f27"/><path d="M1405.7 333L1413 346.8L1398.3 346.8Z" fill="#d95f27"/><path d="M1415.4 365.1L1422.8 378.9L1408 378.9Z" fill="#d95f27"/><path d="M1420.3 365.6L1427.6 379.4L1412.9 379.4Z" fill="#d95f27"/><path d="M1425.1 328.5L1432.5 342.3L1417.8 342.3Z" fill="#d95f27"/><path d="M1434.9 339.4L1442.3 353.2L1427.5 353.2Z" fill="#d95f27"/><path d="M1444.6 368.1L1452 381.9L1437.2 381.9Z" fill="#d95f27"/><path d="M1449.5 321.6L1456.9 335.4L1442.1 335.4Z" fill="#d95f27"/><path d="M1454.4 306.8L1461.7 320.6L1447 320.6Z" fill="#d95f27"/><path d="M1464.1 320.1L1471.5 333.9L1456.7 333.9Z" fill="#d95f27"/><path d="M1473.8 324.6L1481.2 338.4L1466.5 338.4Z" fill="#d95f27"/><path d="M1478.7 336L1486.1 349.8L1471.3 349.8Z" fill="#d95f27"/><path d="M1483.6 327.5L1491 341.3L1476.2 341.3Z" fill="#d95f27"/><path d="M1493.3 362.7L1500.7 376.5L1485.9 376.5Z" fill="#d95f27"/><path d="M1503.1 324.7L1510.5 338.5L1495.7 338.5Z" fill="#d95f27"/><path d="M1507.9 325.2L1515.3 339L1500.6 339Z" fill="#d95f27"/><path d="M1512.8 341.9L1520.2 355.7L1505.4 355.7Z" fill="#d95f27"/><path d="M1522.6 334L1529.9 347.8L1515.2 347.8Z" fill="#d95f27"/><path d="M1532.3 323.8L1539.7 337.6L1524.9 337.6Z" fill="#d95f27"/><path d="M1537.2 311.4L1544.6 325.2L1529.8 325.2Z" fill="#d95f27"/><path d="M1542 311.4L1549.4 325.2L1534.7 325.2Z" fill="#d95f27"/><path d="M1551.8 310.4L1559.2 324.2L1544.4 324.2Z" fill="#d95f27"/><path d="M1561.5 308.4L1568.9 322.2L1554.1 322.2Z" fill="#d95f27"/><path d="M1566.4 318.8L1573.8 332.6L1559 332.6Z" fill="#d95f27"/><path d="M1571.3 307.9L1578.6 321.7L1563.9 321.7Z" fill="#d95f27"/><path d="M1581 330.2L1588.4 344L1573.6 344Z" fill="#d95f27"/><path d="M1590.7 316.8L1598.1 330.6L1583.4 330.6Z" fill="#d95f27"/><path d="M1595.6 324.7L1603 338.5L1588.2 338.5Z" fill="#d95f27"/><path d="M1600.5 304.5L1607.9 318.3L1593.1 318.3Z" fill="#d95f27"/><path d="M1610.2 305L1617.6 318.8L1602.9 318.8Z" fill="#d95f27"/><path d="M1624.8 309.4L1632.2 323.2L1617.5 323.2Z" fill="#d95f27"/><path d="M1629.7 313.9L1637.1 327.7L1622.3 327.7Z" fill="#d95f27"/><path d="M1639.5 313.9L1646.8 327.7L1632.1 327.7Z" fill="#d95f27"/><path d="M1649.2 314.4L1656.6 328.2L1641.8 328.2Z" fill="#d95f27"/>
</g>
<g>
<circle cx="1011.1" cy="344.7" r="7.7" fill="#4aa275"/><circle cx="1016" cy="343.5" r="7.7" fill="#4aa275"/><circle cx="1025.7" cy="341.1" r="7.7" fill="#4aa275"/><circle cx="1035.5" cy="338.7" r="7.7" fill="#4aa275"/><circle cx="1040.3" cy="337.5" r="7.7" fill="#4aa275"/><circle cx="1045.2" cy="336.4" r="7.7" fill="#4aa275"/><circle cx="1054.9" cy="334" r="7.7" fill="#4aa275"/><circle cx="1064.7" cy="331.6" r="7.7" fill="#4aa275"/><circle cx="1069.6" cy="330.2" r="7.7" fill="#4aa275"/><circle cx="1074.4" cy="328.7" r="7.7" fill="#4aa275"/><circle cx="1084.2" cy="326.1" r="7.7" fill="#4aa275"/><circle cx="1093.9" cy="323.9" r="7.7" fill="#4aa275"/><circle cx="1098.8" cy="322.8" r="7.7" fill="#4aa275"/><circle cx="1103.6" cy="321.7" r="7.7" fill="#4aa275"/><circle cx="1113.4" cy="319.6" r="7.7" fill="#4aa275"/><circle cx="1123.1" cy="317.5" r="7.7" fill="#4aa275"/><circle cx="1128" cy="316.5" r="7.7" fill="#4aa275"/><circle cx="1132.9" cy="315.5" r="7.7" fill="#4aa275"/><circle cx="1142.6" cy="313.4" r="7.7" fill="#4aa275"/><circle cx="1152.4" cy="310.2" r="7.7" fill="#4aa275"/><circle cx="1157.2" cy="307.5" r="7.7" fill="#4aa275"/><circle cx="1162.1" cy="305.6" r="7.7" fill="#4aa275"/><circle cx="1171.8" cy="303" r="7.7" fill="#4aa275"/><circle cx="1181.6" cy="300.3" r="7.7" fill="#4aa275"/><circle cx="1186.5" cy="298.9" r="7.7" fill="#4aa275"/><circle cx="1191.3" cy="297.4" r="7.7" fill="#4aa275"/><circle cx="1201.1" cy="294.5" r="7.7" fill="#4aa275"/><circle cx="1210.8" cy="291.4" r="7.7" fill="#4aa275"/><circle cx="1220.6" cy="288" r="7.7" fill="#4aa275"/><circle cx="1230.3" cy="283.2" r="7.7" fill="#4aa275"/><circle cx="1244.9" cy="292" r="7.7" fill="#4aa275"/><circle cx="1249.8" cy="287.4" r="7.7" fill="#4aa275"/><circle cx="1259.5" cy="292" r="7.7" fill="#4aa275"/><circle cx="1269.3" cy="293" r="7.7" fill="#4aa275"/><circle cx="1274.1" cy="280" r="7.7" fill="#4aa275"/><circle cx="1279" cy="279.8" r="7.7" fill="#4aa275"/><circle cx="1288.7" cy="285.5" r="7.7" fill="#4aa275"/><circle cx="1298.5" cy="271.3" r="7.7" fill="#4aa275"/><circle cx="1303.4" cy="252.4" r="7.7" fill="#4aa275"/><circle cx="1308.2" cy="269.6" r="7.7" fill="#4aa275"/><circle cx="1318" cy="248.4" r="7.7" fill="#4aa275"/><circle cx="1327.7" cy="244" r="7.7" fill="#4aa275"/><circle cx="1337.5" cy="255" r="7.7" fill="#4aa275"/><circle cx="1347.2" cy="249" r="7.7" fill="#4aa275"/><circle cx="1356.9" cy="237" r="7.7" fill="#4aa275"/><circle cx="1361.8" cy="226.6" r="7.7" fill="#4aa275"/><circle cx="1366.7" cy="229.5" r="7.7" fill="#4aa275"/><circle cx="1376.4" cy="227.6" r="7.7" fill="#4aa275"/><circle cx="1386.2" cy="222.5" r="7.7" fill="#4aa275"/><circle cx="1391" cy="219.7" r="7.7" fill="#4aa275"/><circle cx="1395.9" cy="227.6" r="7.7" fill="#4aa275"/><circle cx="1405.7" cy="233.6" r="7.7" fill="#4aa275"/><circle cx="1415.4" cy="217.7" r="7.7" fill="#4aa275"/><circle cx="1420.3" cy="222" r="7.7" fill="#4aa275"/><circle cx="1425.1" cy="225.2" r="7.7" fill="#4aa275"/><circle cx="1434.9" cy="205.4" r="7.7" fill="#4aa275"/><circle cx="1444.6" cy="205.9" r="7.7" fill="#4aa275"/><circle cx="1449.5" cy="200.9" r="7.7" fill="#4aa275"/><circle cx="1454.4" cy="229.1" r="7.7" fill="#4aa275"/><circle cx="1464.1" cy="227.1" r="7.7" fill="#4aa275"/><circle cx="1473.8" cy="207.4" r="7.7" fill="#4aa275"/><circle cx="1478.7" cy="195" r="7.7" fill="#4aa275"/><circle cx="1483.6" cy="207.4" r="7.7" fill="#4aa275"/><circle cx="1493.3" cy="204.4" r="7.7" fill="#4aa275"/><circle cx="1503.1" cy="215" r="7.7" fill="#4aa275"/><circle cx="1507.9" cy="195" r="7.7" fill="#4aa275"/><circle cx="1512.8" cy="213.1" r="7.7" fill="#4aa275"/><circle cx="1522.6" cy="215.3" r="7.7" fill="#4aa275"/><circle cx="1532.3" cy="207.4" r="7.7" fill="#4aa275"/><circle cx="1537.2" cy="184.1" r="7.7" fill="#4aa275"/><circle cx="1542" cy="183.6" r="7.7" fill="#4aa275"/><circle cx="1551.8" cy="182.6" r="7.7" fill="#4aa275"/><circle cx="1561.5" cy="160.9" r="7.7" fill="#4aa275"/><circle cx="1566.4" cy="158.4" r="7.7" fill="#4aa275"/><circle cx="1571.3" cy="156.4" r="7.7" fill="#4aa275"/><circle cx="1581" cy="112.3" r="7.7" fill="#4aa275"/><circle cx="1590.7" cy="154.9" r="7.7" fill="#4aa275"/><circle cx="1595.6" cy="151" r="7.7" fill="#4aa275"/><circle cx="1600.5" cy="82.6" r="7.7" fill="#4aa275"/><circle cx="1610.2" cy="167.3" r="7.7" fill="#4aa275"/><circle cx="1624.8" cy="74.1" r="7.7" fill="#4aa275"/><circle cx="1629.7" cy="186.6" r="7.7" fill="#4aa275"/><circle cx="1639.5" cy="162.4" r="7.7" fill="#4aa275"/><circle cx="1649.2" cy="151" r="7.7" fill="#4aa275"/>
</g>
<g>
<path d="M1249.8 366.6L1257.2 352.8L1242.4 352.8Z" fill="#cb7ae9"/>
</g>
<text class="l" style="font-size:29.5px" x="1670.7" y="279.8">***</text>
<text class="l" style="font-size:29.5px" x="1670.7" y="341.5">***</text>
<text class="b" font-size="66.5" transform="translate(824.7 51.2) scale(0.925 0.975)">B</text>
<text class="b" font-size="30.2" transform="translate(1377 493) scale(1 1.04)" text-anchor="middle" xml:space="preserve" style="white-space:pre">Time  (hours)</text>
<text class="b" font-size="30.2" text-anchor="middle" transform="translate(884.1 219) rotate(-90) scale(1 1.04)">Cross-Sectional</text>
<text class="b" font-size="30.2" text-anchor="middle" transform="translate(922.4 218) rotate(-90) scale(1 1.04)">Sphere Area (<tspan font-weight="normal">μ</tspan>m<tspan font-size="22" dy="-10.9">2</tspan><tspan dy="10.9">)</tspan></text>
</g>
</svg>
</body></html>
